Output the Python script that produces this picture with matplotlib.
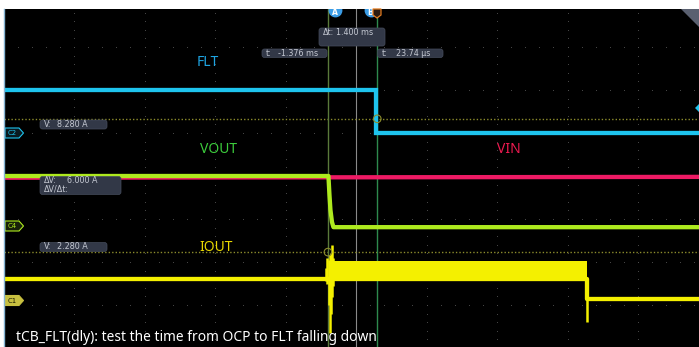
import numpy as np
import matplotlib.pyplot as plt
import matplotlib.transforms as mtransforms
from matplotlib.patches import FancyBboxPatch, Polygon

W, H = 699, 347

# cursor readouts (ms)
cursor_a = -1.376
cursor_b = 0.02374
delta_t = cursor_b - cursor_a
v_cursor1 = 8.280   # A
v_cursor2 = 2.280   # A
v_cursor1_div = 5.33
v_cursor2_div = 2.23

# traces: time in ms, level in screen divisions (0 = bottom)
flt_t = [-10.6, 0.0, 0.0, 9.5]
flt_y = [6.0, 6.0, 5.0, 5.0]

vin_t = [-10.6, 9.5]
vin_y = [3.96, 3.98]

vout_t = [-10.6, -1.362, -1.333, -1.305, -1.262, -1.22, 9.5]
vout_y = [4.0, 4.0, 3.56, 3.21, 2.93, 2.81, 2.81]

iout_t = [-10.6, -1.22, 5.98, 5.98, 9.5]
iout_y = [1.60, 1.60, 1.60, 1.13, 1.13]
# oscillation envelope while the output is limited
band_t = [-1.22, 5.98]
band_lo = [1.60, 1.60]
band_hi = [2.02, 2.02]
# ringing spikes: time, min, max
spike_t = [-1.42, -1.40, -1.36, -1.33, -1.30, -1.25, -1.23, 5.98]
spike_lo = [1.55, 1.50, 1.00, 0.35, 0.80, 1.19, 1.45, 0.60]
spike_hi = [1.85, 2.09, 2.05, 2.16, 2.20, 2.40, 2.10, 1.62]

channel_labels = ["FLT", "VOUT", "VIN", "IOUT"]
colors = {"FLT": "#1ec4ee", "VOUT": "#aeea1e", "VIN": "#ee1a64", "IOUT": "#f4f000"}

fig = plt.figure(figsize=(W / 100, H / 100), dpi=100)
fig.patch.set_facecolor("white")

# screen spans 10 x 8 divisions, 2 ms/div
t_left = -10.58
ax = fig.add_axes([3.5 / W, 0, 705 / W, 338 / H])
ax.set_facecolor("black")
ax.set_xlim(t_left, t_left + 20)
ax.set_ylim((348 - 347) / 43, (348 - 9) / 43)
ax.set_xticks([])
ax.set_yticks([])
for s in ax.spines.values():
    s.set_visible(False)

# graticule
grid_col = "#505050"
xs_major = t_left + 2 * np.arange(1, 10)
for xv in xs_major:
    yy = np.arange(0, 8.01, 0.2)
    ax.scatter(np.full_like(yy, xv), yy, s=0.6, color=grid_col, lw=0, zorder=1)
for yv in range(1, 8):
    xx = t_left + np.arange(0, 20.01, 0.4)
    ax.scatter(xx, np.full_like(xx, yv), s=0.6, color=grid_col, lw=0, zorder=1)
ax.axvline(t_left + 10, color="#8a8a8a", lw=0.8, zorder=1)

# cursors
ax.axhline(v_cursor1_div, color="#8c8c2c", lw=1, ls=(0, (1, 1.5)), zorder=2)
ax.axhline(v_cursor2_div, color="#8c8c2c", lw=1, ls=(0, (1, 1.5)), zorder=2)
ax.axvline(cursor_a, color="#5a7a3a", lw=1, zorder=2)
ax.axvline(cursor_b, color="#2e8a4e", lw=1, zorder=2)

# waveforms
lw = 3.1
ax.plot(flt_t, flt_y, color=colors["FLT"], lw=lw, zorder=4, solid_joinstyle="miter")
ax.plot(vin_t, vin_y, color=colors["VIN"], lw=lw, zorder=4)
ax.plot(vout_t, vout_y, color=colors["VOUT"], lw=lw, zorder=5)
ax.fill_between(band_t, band_lo, band_hi, color=colors["IOUT"], lw=0, zorder=4)
ax.plot(iout_t, iout_y, color=colors["IOUT"], lw=lw, zorder=4)
ax.vlines(spike_t, spike_lo, spike_hi, color=colors["IOUT"], lw=1.8, zorder=4)

# cursor intersection markers
ax.scatter([cursor_a, cursor_b], [v_cursor2_div, v_cursor1_div], s=30,
           facecolor="none", edgecolor="#8c8c2c", lw=0.8, zorder=6)

# cursor tags A / B
ax.scatter([cursor_a + 0.19, cursor_b - 0.19], [7.86, 7.86], s=80,
           color="#3b9de6", zorder=7)
ax.text(cursor_a + 0.19, 7.80, "A", color="white", fontsize=5.5,
        ha="center", va="center", fontweight="bold", zorder=8)
ax.text(cursor_b - 0.19, 7.80, "B", color="white", fontsize=5.5,
        ha="center", va="center", fontweight="bold", zorder=8)

# pixel transform for overlays
pix = mtransforms.Affine2D().scale(1 / W, -1 / H).translate(0, 1) + fig.transFigure

def readout(x0, y0, w, h, lines, pad_x=4):
    box = FancyBboxPatch((x0, y0), w, h, boxstyle="round,pad=0,rounding_size=2.5",
                         transform=pix, facecolor="#323847", edgecolor="#454c5c",
                         lw=0.5, zorder=10)
    fig.add_artist(box)
    for i, (lab, val, xoff) in enumerate(lines):
        yy = y0 + 4.5 + i * 8.5
        fig.text(x0 + pad_x, yy, lab, transform=pix, color="#c4c8d2",
                 fontsize=5.8, va="center", ha="left", zorder=11)
        if val:
            fig.text(x0 + xoff, yy, val, transform=pix, color="#c4c8d2",
                     fontsize=5.8, va="center", ha="left", zorder=11)

readout(319, 28, 66, 18, [("\u0394t:", f"{delta_t:.3f} ms", 17)])
readout(262, 49, 65, 8.5, [("t:", f"{cursor_a:.3f} ms", 16)])
readout(377.5, 49, 65.5, 8.5, [("t:", f"{cursor_b * 1000:.2f} \u00b5s", 18)])
readout(40, 120, 67, 9, [("V:", f"{v_cursor1:.3f} A", 17)])
readout(40, 176.5, 81, 18, [("\u0394V:", f"{v_cursor1 - v_cursor2:.3f} A", 27),
                            ("\u0394V/\u0394t:", "", 0)])
readout(40, 242.5, 67, 9, [("V:", f"{v_cursor2:.3f} A", 17)])

# channel tags on the left
def channel_tag(yc, name, edge, face, txt):
    pts = [(5, yc - 5), (19, yc - 5), (23.5, yc), (19, yc + 5), (5, yc + 5)]
    fig.add_artist(Polygon(pts, closed=True, transform=pix, facecolor=face,
                           edgecolor=edge, lw=0.8, zorder=10))
    fig.text(12.5, yc + 0.3, name, transform=pix, color=txt, fontsize=5,
             ha="center", va="center", zorder=11)

channel_tag(133, "C2", "#1ec4ee", "#0a1a20", "#1ec4ee")
channel_tag(226, "C4", "#aeea1e", "#18200a", "#aeea1e")
channel_tag(300.5, "C1", "#c8c040", "#c8c040", "#1a1a00")

# trigger marker and settings corner
fig.add_artist(Polygon([(373, 9), (381, 9), (381, 15), (377, 18), (373, 15)],
                       closed=True, transform=pix, facecolor="#2a1a10",
                       edgecolor="#e07a20", lw=0.9, zorder=10))
fig.add_artist(Polygon([(681, 9), (699, 9), (699, 27)], closed=True, transform=pix,
                       facecolor="#5a6070", edgecolor="none", zorder=10))
fig.add_artist(Polygon([(699, 104), (695, 108), (699, 112)], closed=True, transform=pix,
                       facecolor="#1ec4ee", edgecolor="none", zorder=10))

# left border
fig.add_artist(plt.Line2D([4, 4], [9, 347], transform=pix, color="#86b4d2", lw=1, zorder=12))

# channel names
font = "Noto Sans"
label_pos = {"FLT": (208, 62), "VOUT": (218, 150), "VIN": (509, 150), "IOUT": (216, 248)}
label_col = {"FLT": "#1ea4e2", "VOUT": "#3ccc3c", "VIN": "#ee1a50", "IOUT": "#e8d800"}
for name in channel_labels:
    x, y = label_pos[name]
    fig.text(x, y, name, transform=pix, color=label_col[name], fontsize=10,
             family=font, ha="center", va="center", zorder=11)

fig.text(16, 338, "tCB_FLT(dly): test the time from OCP to FLT falling down",
         transform=pix, color="white", fontsize=9.95, family=font,
         ha="left", va="center", zorder=11)

fig.savefig("out.png", dpi=100, facecolor="white")
